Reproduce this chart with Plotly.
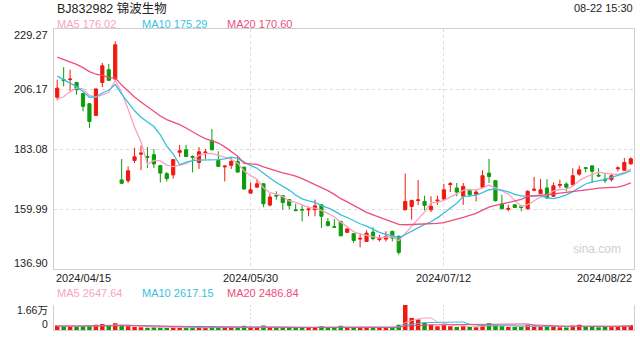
import pandas as pd
import plotly.graph_objects as go

# ---------------- data ----------------
holidays = ["2024-05-01", "2024-05-02", "2024-05-03", "2024-06-10"]
dates = [d.strftime("%Y-%m-%d") for d in pd.bdate_range("2024-04-15", "2024-08-22")
         if d.strftime("%Y-%m-%d") not in holidays]

open_ = [203.0, 209.8, 209.8, 208.7, 204.4, 200.5, 196.0, 208.7, 213.6, 210.0,
         171.2, 170.9, 178.7, 181.1, 180.2, 180.9, 176.7, 173.6, 173.1, 181.8,
         182.8, 180.2, 177.9, 181.7, 186.4, 178.7, 176.2, 176.8, 178.3, 176.1,
         166.1, 168.4, 169.7, 161.5, 165.3, 165.1, 163.6, 159.7, 159.8, 159.7,
         159.7, 161.6, 155.1, 153.2, 155.2, 151.0, 150.5, 148.4, 147.5, 151.1,
         148.2, 148.4, 151.4, 149.5, 159.7, 161.0, 163.3, 162.9, 159.7, 163.1,
         163.8, 169.4, 168.1, 164.9, 167.0, 165.7, 168.4, 173.8, 170.9, 161.9,
         159.9, 161.6, 160.9, 160.1, 167.2, 165.9, 168.1, 164.9, 169.1, 169.6,
         169.3, 173.4, 175.9, 176.6, 173.0, 171.5, 171.3, 175.5, 174.9, 177.4]
high = [209.8, 214.6, 213.6, 208.9, 204.6, 200.7, 206.4, 216.2, 215.8, 224.5,
        179.2, 176.4, 183.5, 184.4, 183.8, 183.1, 176.9, 174.2, 179.2, 184.7,
        184.7, 180.6, 183.8, 183.1, 190.8, 182.2, 176.8, 179.6, 180.2, 176.3,
        170.2, 171.5, 169.9, 165.9, 166.8, 165.3, 163.8, 162.0, 161.6, 161.0,
        163.6, 161.8, 156.5, 156.1, 155.4, 152.7, 150.7, 150.7, 151.8, 153.0,
        150.1, 151.4, 151.6, 149.7, 173.6, 163.5, 171.1, 165.1, 164.9, 165.1,
        169.7, 170.4, 170.0, 170.0, 167.2, 167.4, 174.9, 179.3, 171.1, 165.5,
        161.6, 161.8, 161.6, 167.2, 172.3, 171.5, 171.5, 170.2, 171.3, 170.2,
        175.7, 176.7, 176.1, 176.8, 175.7, 173.8, 173.8, 176.4, 179.6, 179.9]
low = [201.8, 207.2, 205.3, 204.0, 197.6, 191.2, 195.9, 206.9, 209.3, 209.7,
       169.6, 170.0, 177.7, 174.9, 175.8, 175.8, 170.2, 170.6, 171.7, 180.0,
       180.0, 174.1, 175.4, 179.2, 182.6, 176.1, 170.6, 175.4, 174.0, 167.4,
       166.0, 168.2, 160.7, 161.0, 163.6, 159.7, 159.9, 159.1, 155.2, 157.2,
       157.2, 152.7, 153.3, 152.8, 149.5, 150.7, 146.9, 145.2, 147.3, 147.9,
       147.5, 147.5, 147.5, 142.4, 159.5, 155.9, 161.5, 159.5, 158.8, 161.6,
       163.6, 166.5, 164.9, 161.6, 164.6, 162.9, 168.2, 170.0, 162.9, 159.9,
       159.1, 160.4, 159.1, 159.7, 166.8, 165.7, 163.8, 164.6, 168.1, 166.8,
       169.1, 172.8, 174.1, 170.0, 172.4, 170.0, 170.6, 174.5, 174.7, 177.0]
close = [206.5, 209.4, 210.0, 205.9, 199.5, 193.7, 206.2, 215.1, 209.5, 223.2,
         169.9, 174.7, 180.1, 181.5, 179.9, 177.3, 173.8, 171.7, 179.0, 182.4,
         180.2, 179.9, 182.0, 181.9, 182.8, 176.4, 176.5, 178.3, 174.2, 167.7,
         167.4, 169.7, 162.0, 164.6, 165.0, 162.5, 161.3, 159.4, 159.6, 160.0,
         161.2, 157.2, 153.6, 153.0, 149.7, 152.3, 147.9, 148.7, 150.7, 148.6,
         148.6, 149.5, 148.8, 143.3, 162.9, 163.3, 163.5, 161.4, 161.0, 163.4,
         167.4, 169.7, 166.5, 168.7, 165.5, 166.5, 172.8, 172.5, 163.2, 160.1,
         160.2, 160.6, 160.6, 166.8, 167.6, 167.4, 164.2, 168.9, 169.4, 168.4,
         172.8, 175.1, 175.6, 174.5, 172.7, 171.0, 172.8, 175.8, 177.9, 179.3]
volume = [3000, 2500, 2200, 2000, 2500, 3200, 3500, 4000, 2800, 4500,
          3500, 2500, 2000, 1800, 1500, 1800, 1600, 1400, 2000, 1500,
          1300, 1200, 1500, 1200, 2500, 1800, 1500, 1300, 1600, 2800,
          1800, 1500, 3000, 2000, 1500, 2000, 1600, 1200, 1500, 1300,
          1800, 2500, 1500, 1200, 2800, 1500, 2000, 1800, 1800, 1600,
          1400, 1500, 1700, 3500, 16600, 8000, 7000, 5000, 3500, 2500,
          3200, 2500, 2000, 2800, 2000, 1800, 3500, 4500, 3500, 2500,
          2000, 2000, 2000, 3500, 3000, 2500, 2500, 2600, 1800, 1700,
          2900, 3500, 2200, 2500, 1800, 2000, 2300, 2700, 3000, 3200]
# closes / volumes of the 19 sessions before the window (for moving averages)
prior_close = [228, 226, 227, 224, 225, 226, 224, 226, 225, 226,
               224, 222, 220, 218, 216, 205, 200, 199, 201]
prior_volume = [3000, 2800, 2600, 2500, 2400, 2600, 2500, 2300, 2400, 2500,
                2600, 2700, 2500, 2400, 2300, 2600, 2800, 2500, 2400]

y_ticks = [229.27, 206.17, 183.08, 159.99, 136.90]
y_ticktext = ["229.27", "206.17", "183.08", "159.99", "136.90"]
x_tick_idx = [0, 30, 60, 89]
x_ticktext = ["2024/04/15", "2024/05/30", "2024/07/12", "2024/08/22"]
vol_max = 16600
vol_ticktext = ["1.66万", "0"]

title_text = "BJ832982 锦波生物"
time_text = "08-22 15:30"
ma_labels = ["MA5 176.02", "MA10 175.29", "MA20 170.60"]
vol_ma_labels = ["MA5 2647.64", "MA10 2617.15", "MA20 2486.84"]

# ---------------- derived ----------------
RED = "#f0190f"
GREEN = "#0c9c0c"
MA_COLORS = ["#f8a3be", "#38bfe0", "#ee4d7d"]
FONT = "Arial, 'Liberation Sans', 'Noto Sans CJK SC', sans-serif"

cs = pd.Series(prior_close + close)
vs = pd.Series(prior_volume + volume)
n0 = len(prior_close)
ma = [cs.rolling(w).mean().iloc[n0:].tolist() for w in (5, 10, 20)]
vma = [vs.rolling(w).mean().iloc[n0:].tolist() for w in (5, 10, 20)]
bar_colors = [RED if c >= o else GREEN for o, c in zip(open_, close)]

fig = go.Figure()
fig.add_trace(go.Candlestick(
    x=dates, open=open_, high=high, low=low, close=close,
    increasing=dict(line=dict(color=RED, width=1), fillcolor=RED),
    decreasing=dict(line=dict(color=GREEN, width=1), fillcolor=GREEN),
    whiskerwidth=0, xaxis="x", yaxis="y", showlegend=False))
for m, col in zip(ma, MA_COLORS):
    fig.add_trace(go.Scatter(x=dates, y=m, mode="lines",
                             line=dict(color=col, width=1.3),
                             xaxis="x", yaxis="y", showlegend=False))
fig.add_trace(go.Bar(x=dates, y=volume, marker=dict(color=bar_colors, line_width=0),
                     xaxis="x2", yaxis="y2", showlegend=False))
for m, col in zip(vma, MA_COLORS):
    fig.add_trace(go.Scatter(x=dates, y=m, mode="lines",
                             line=dict(color=col, width=1),
                             xaxis="x2", yaxis="y2", showlegend=False))

XD = [54 / 640, 634 / 640]
H = 360.0
def py(pix):
    return (H - pix) / H

grid = "#dcdcdc"
frame = "#cfcfcf"
fig.update_layout(
    width=640, height=360, margin=dict(l=0, r=0, t=0, b=0),
    paper_bgcolor="white", plot_bgcolor="white",
    font=dict(family=FONT, size=11, color="#222"),
    bargap=0.3,
    xaxis=dict(domain=XD, type="category", range=[-0.5, len(dates) - 0.5],
               rangeslider=dict(visible=False), showticklabels=False,
               tickvals=[dates[i] for i in x_tick_idx[1:3]],
               showgrid=True, gridcolor=grid, griddash="3px,3px", gridwidth=1,
               showline=True, mirror=True, linecolor=frame, linewidth=1,
               ticks="", zeroline=False, anchor="y"),
    yaxis=dict(domain=[py(269), py(29)], range=[y_ticks[-1], y_ticks[0]],
               tickvals=y_ticks[1:4], showticklabels=False,
               showgrid=True, gridcolor=grid, griddash="3px,3px", gridwidth=1,
               showline=True, mirror=True, linecolor=frame, linewidth=1,
               zeroline=False, ticks="", anchor="x"),
    xaxis2=dict(domain=XD, type="category", range=[-0.5, len(dates) - 0.5],
                matches="x", showticklabels=False,
                tickvals=[dates[i] for i in x_tick_idx[1:3]],
                showgrid=True, gridcolor=grid, griddash="2px,2px", gridwidth=1,
                showline=True, linecolor=frame, linewidth=1, mirror=False,
                ticks="", zeroline=False, anchor="y2"),
    yaxis2=dict(domain=[py(330), py(305)], range=[0, vol_max],
                tickvals=[vol_max], showticklabels=False,
                showgrid=True, gridcolor=grid, griddash="2px,2px", gridwidth=1.5,
                showline=True, mirror=True, linecolor=frame, linewidth=1,
                zeroline=False, ticks="", anchor="x2"),
)

ann = []
# header
ann.append(dict(text=title_text, x=55 / 640, y=py(9), xref="paper", yref="paper",
                xanchor="left", yanchor="middle", showarrow=False,
                font=dict(size=12.5, color="#222")))
ann.append(dict(text=time_text, x=635 / 640, y=py(8), xref="paper", yref="paper",
                xanchor="right", yanchor="middle", showarrow=False,
                font=dict(size=11, color="#222")))
for lbl, col, xp in zip(ma_labels, MA_COLORS, (55, 140, 225)):
    ann.append(dict(text=lbl, x=xp / 640, y=py(24), xref="paper", yref="paper",
                    xanchor="left", yanchor="middle", showarrow=False,
                    font=dict(size=11, color=col)))
for lbl, col, xp in zip(vol_ma_labels, MA_COLORS, (55, 140, 225)):
    ann.append(dict(text=lbl, x=xp / 640, y=py(293), xref="paper", yref="paper",
                    xanchor="left", yanchor="middle", showarrow=False,
                    font=dict(size=11, color=col)))
# price tick labels
for i, (v, t) in enumerate(zip(y_ticks, y_ticktext)):
    shift = -6 if i == 0 else (6 if i == len(y_ticks) - 1 else 0)
    ann.append(dict(text=t, x=50 / 640, y=v, xref="paper", yref="y",
                    xanchor="right", yanchor="middle", yshift=shift,
                    showarrow=False, font=dict(size=11, color="#222")))
# date labels
for i, (idx, t) in enumerate(zip(x_tick_idx, x_ticktext)):
    anchor = "left" if i == 0 else ("right" if i == len(x_tick_idx) - 1 else "center")
    xv = -0.5 if i == 0 else (len(dates) - 0.5 if i == len(x_tick_idx) - 1 else idx)
    ann.append(dict(text=t, x=xv, y=py(278), xref="x", yref="paper",
                    xanchor=anchor, yanchor="middle", showarrow=False,
                    font=dict(size=11, color="#222")))
# volume tick labels
ann.append(dict(text=vol_ticktext[0], x=50 / 640, y=vol_max, xref="paper", yref="y2",
                xanchor="right", yanchor="middle", yshift=-5, showarrow=False,
                font=dict(size=10.5, color="#222")))
ann.append(dict(text=vol_ticktext[1], x=50 / 640, y=0, xref="paper", yref="y2",
                xanchor="right", yanchor="middle", yshift=6, showarrow=False,
                font=dict(size=10.5, color="#222")))
# watermark
ann.append(dict(text="sina.com", x=623 / 640, y=py(249), xref="paper", yref="paper",
                xanchor="right", yanchor="middle", showarrow=False,
                font=dict(size=12, color="#cfcfcf")))
fig.update_layout(annotations=ann)

fig.write_html("out.html", config={"displayModeBar": False},
               post_script="document.body.style.margin='0';document.body.style.padding='0';")
